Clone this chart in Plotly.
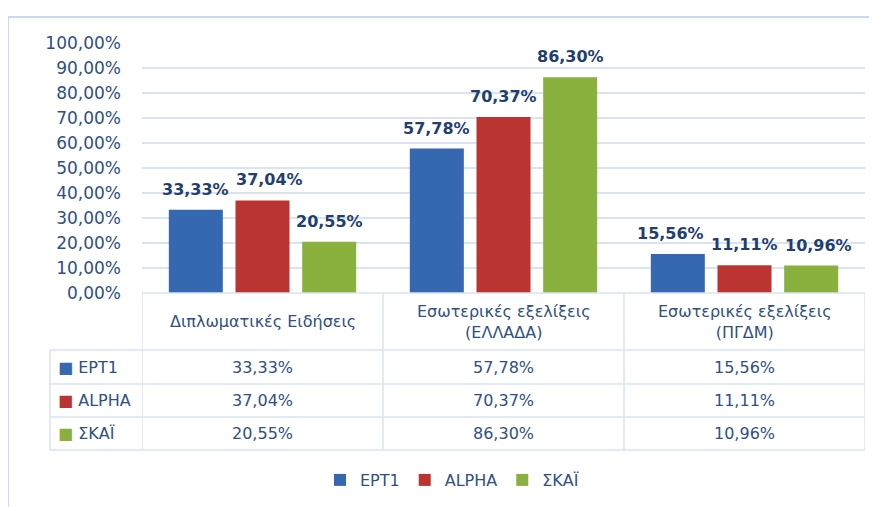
import plotly.graph_objects as go

categories = ["Διπλωματικές Ειδήσεις", "Εσωτερικές εξελίξεις<br>(ΕΛΛΑΔΑ)", "Εσωτερικές εξελίξεις<br>(ΠΓΔΜ)"]
series_names = ["ΕΡΤ1", "ALPHA", "ΣΚΑΪ"]
ert1 = [0.3333, 0.5778, 0.1556]
alpha = [0.3704, 0.7037, 0.1111]
skai = [0.2055, 0.8630, 0.1096]
y_ticks = [0, 0.1, 0.2, 0.3, 0.4, 0.5, 0.6, 0.7, 0.8, 0.9, 1.0]

series_values = [ert1, alpha, skai]
colors = ["#3568B0", "#BC3432", "#8AB03E"]
text_col = "#2F4F85"
label_col = "#1F3F70"
grid_col = "#D9E3F2"
font_family = "DejaVu Sans, sans-serif"
BARGAP = 0.17
# small horizontal nudges (px) for value labels that would otherwise collide
label_nudge = {(0, 1): 7, (2, 0): -7, (2, 2): 7}

def fmt(v):
    return f"{v*100:.2f}%".replace(".", ",")

fig = go.Figure()
xs = list(range(len(categories)))
for name, vals, col in zip(series_names, series_values, colors):
    fig.add_trace(go.Bar(
        x=xs, y=vals, name=name,
        marker=dict(color=col, line=dict(width=0)),
    ))

# plot area in page pixels: x 142..865, y 43..293 (page has 8px body margin)
PW, PH = 723, 250
def px(xp):
    return (xp - 142) / PW
def py(yp):
    return (293 - yp) / PH

shapes = []
line = dict(color=grid_col, width=1.5)
for b in [-0.5, 0.5, 1.5, 2.5]:
    shapes.append(dict(type="line", xref="x", yref="paper", x0=b, x1=b, y0=0, y1=py(450), line=line))
shapes.append(dict(type="line", xref="paper", yref="paper", x0=px(50), x1=px(50), y0=py(350), y1=py(450), line=line))
shapes.append(dict(type="line", xref="x", yref="paper", x0=-0.5, x1=2.5, y0=0, y1=0, line=line))
for yy in [350, 384, 417, 450]:
    shapes.append(dict(type="line", xref="paper", yref="paper", x0=px(50), x1=1.0, y0=py(yy), y1=py(yy), line=line))
border = dict(color="#C9D9EE", width=2)
shapes.append(dict(type="line", xref="paper", yref="paper", x0=px(8), x1=px(900), y0=py(17), y1=py(17), line=border))
shapes.append(dict(type="line", xref="paper", yref="paper", x0=px(8), x1=px(8), y0=py(17), y1=py(520), line=border))

annotations = []
# value labels above bars
slot = (1 - BARGAP) / len(series_values)
for j, vals in enumerate(series_values):
    for i, v in enumerate(vals):
        annotations.append(dict(x=i + (j - (len(series_values) - 1) / 2) * slot, y=v, xref="x", yref="y",
                                text=fmt(v), showarrow=False, yanchor="bottom", yshift=9,
                                xshift=label_nudge.get((i, j), 0),
                                font=dict(family=font_family, size=16, color=label_col, weight="bold")))
for i, c in enumerate(categories):
    annotations.append(dict(x=i, y=py(321.5), xref="x", yref="paper", text=c, showarrow=False,
                            font=dict(family=font_family, size=16, color=text_col), yanchor="middle"))
row_ys = [py(367), py(400.5), py(433.5)]
for name, vals, col, ry in zip(series_names, series_values, colors, row_ys):
    annotations.append(dict(x=px(56), y=ry, xref="paper", yref="paper", xanchor="left", yanchor="middle",
                            text=f"<span style='color:{col}'>■</span> {name}", showarrow=False,
                            font=dict(family=font_family, size=16, color=text_col)))
    for i, v in enumerate(vals):
        annotations.append(dict(x=i, y=ry, xref="x", yref="paper", text=fmt(v), showarrow=False,
                                font=dict(family=font_family, size=16, color=text_col), yanchor="middle"))

fig.update_layout(
    width=877, height=507,
    margin=dict(l=134, r=20, t=35, b=222),
    paper_bgcolor="white", plot_bgcolor="white",
    separators=",.",
    barmode="group", bargap=BARGAP, bargroupgap=0.19,
    showlegend=True,
    legend=dict(orientation="h", x=px(452), xanchor="center", y=py(480), yanchor="middle",
                font=dict(family=font_family, size=16, color=text_col), itemwidth=30),
    xaxis=dict(range=[-0.5, 2.5], showticklabels=False, showgrid=False, zeroline=False,
               tickvals=xs, ticks=""),
    yaxis=dict(range=[0, 1.0], tickvals=y_ticks, tickformat=".2%", showgrid=True, gridcolor=grid_col,
               gridwidth=1.5, zeroline=False, ticks="", ticklabelstandoff=20,
               tickfont=dict(family=font_family, size=17, color=text_col)),
    shapes=shapes, annotations=annotations,
)
fig.write_html("out.html")
